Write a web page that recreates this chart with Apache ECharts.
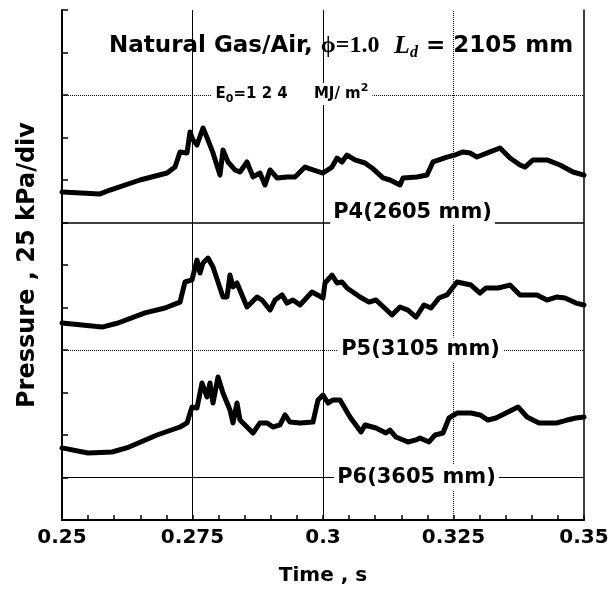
<!DOCTYPE html>
<html>
<head>
<meta charset="utf-8">
<script src="https://cdn.jsdelivr.net/npm/echarts@6/dist/echarts.min.js"></script>
<style>html,body{margin:0;padding:0;background:#fff;}#c{width:616px;height:599px;}</style>
</head>
<body>
<div id="c"></div>
<script>
// Time axis tick labels (s); data times below are in ms
var xTickLabels = ['0.25', '0.275', '0.3', '0.325', '0.35'];

// P4 (2605 mm) trace: time (ms) and pressure (kPa, offset trace)
var p4Time = [250, 257.28, 259.20, 264.94, 270.11, 271.65, 272.61, 273.95, 274.52, 275.10, 275.86, 277.01, 277.97, 278.93, 280.27, 280.84, 281.80, 283.14, 284.10, 285.44, 286.59, 287.93, 288.89, 289.85, 291.19, 293.10, 294.64, 296.55, 298.08, 300.00, 301.72, 302.68, 303.64, 304.60, 306.13, 308.05, 309.39, 311.49, 312.84, 314.75, 315.33, 318.01, 319.92, 321.07, 323.75, 325.29, 326.82, 328.16, 329.50, 330.46, 331.99, 333.91, 335.82, 337.74, 338.70, 340.23, 342.91, 345.40, 347.89, 350];
var p4Val = [192.9, 191.8, 194.1, 200.0, 204.1, 207.6, 216.5, 215.9, 228.2, 223.5, 220.6, 230.6, 223.5, 215.9, 202.9, 217.6, 210.6, 205.9, 204.7, 210.6, 201.8, 204.1, 197.1, 205.9, 201.2, 201.8, 201.8, 207.6, 205.9, 204.1, 207.6, 212.9, 210.6, 214.7, 211.8, 210.0, 207.1, 201.2, 200.0, 197.1, 201.2, 201.8, 202.9, 210.6, 213.5, 214.7, 216.5, 215.9, 213.5, 214.7, 216.5, 218.8, 212.9, 208.8, 207.6, 211.8, 211.8, 208.8, 204.7, 202.9];

// P5 (3105 mm)
var p5Time = [250, 257.66, 260.73, 265.90, 269.73, 272.61, 273.56, 274.90, 275.86, 276.44, 277.01, 277.97, 278.93, 280.84, 281.61, 282.18, 282.76, 283.52, 285.44, 287.36, 288.31, 289.85, 290.80, 292.15, 293.10, 294.25, 295.59, 297.89, 300.00, 300.38, 301.72, 302.68, 303.64, 304.60, 307.09, 308.81, 310.15, 313.22, 314.75, 316.28, 317.82, 319.35, 320.69, 322.22, 323.75, 325.67, 328.35, 330.08, 331.23, 333.52, 335.82, 337.74, 341.00, 342.91, 344.83, 346.36, 348.47, 350];
var p5Val = [115.9, 113.5, 115.9, 121.8, 124.7, 128.2, 140.0, 141.2, 152.9, 145.3, 151.2, 154.1, 148.8, 131.2, 131.2, 144.1, 137.1, 139.4, 125.3, 131.2, 129.4, 123.5, 129.4, 132.4, 127.6, 129.4, 126.5, 134.1, 130.6, 139.4, 144.1, 139.4, 140.0, 136.5, 131.2, 128.2, 129.4, 120.6, 125.3, 123.5, 119.4, 126.5, 124.7, 130.6, 132.4, 140.0, 138.2, 133.5, 136.5, 136.5, 138.2, 132.4, 132.4, 129.4, 131.2, 130.6, 127.6, 126.5];

// P6 (3605 mm)
var p6Time = [250, 254.98, 259.58, 262.84, 268.20, 272.61, 273.95, 274.90, 275.86, 276.82, 277.78, 278.35, 278.93, 279.89, 280.84, 282.18, 282.76, 283.52, 284.10, 285.44, 286.59, 287.93, 289.27, 290.42, 291.76, 292.72, 293.68, 295.59, 298.08, 299.04, 300.00, 300.96, 301.92, 303.26, 305.17, 307.28, 308.05, 310.15, 312.07, 312.84, 313.98, 316.28, 317.82, 318.58, 320.31, 321.46, 322.99, 324.14, 325.67, 328.35, 330.08, 331.61, 333.14, 335.06, 337.36, 339.08, 341.38, 344.83, 346.74, 348.47, 350];
var p6Val = [42.4, 39.4, 40.0, 42.9, 50.0, 54.7, 57.1, 66.5, 65.9, 80.6, 72.4, 80.6, 68.8, 84.1, 74.7, 64.7, 57.1, 68.8, 58.8, 54.7, 51.2, 57.1, 57.1, 54.7, 55.9, 61.8, 57.6, 57.1, 57.6, 70.6, 73.5, 68.8, 70.6, 70.6, 60.6, 51.8, 55.9, 54.1, 51.2, 52.9, 48.8, 45.9, 47.1, 48.2, 45.9, 50.0, 51.2, 60.0, 62.9, 62.9, 61.8, 58.8, 60.0, 62.9, 66.5, 60.6, 57.1, 57.1, 58.8, 60.0, 60.6];

// Trace baselines / annotation lines (kPa) and vertical guide times (ms)
var refLevels = [250, 175, 100, 25];
var gridTimes = [275, 300, 325];

// Annotation texts and their anchor times (ms)
var traceNames = ['P4(2605 mm)', 'P5(3105 mm)', 'P6(3605 mm)'];
var traceNameTimes = [317.15, 318.68, 317.91];
var energyTime = 294.06;

function zip(a, b) { return a.map(function (v, i) { return [v, b[i]]; }); }

var FONT = 'DejaVu Sans';
var chart = echarts.init(document.getElementById('c'), null, { renderer: 'canvas' });

var traceStyle = { color: '#000', width: 5, join: 'round', cap: 'round' };

var option = {
  animation: false,
  backgroundColor: '#fff',
  title: {
    left: 104, top: 26,
    text: '{a|Natural Gas/Air, }{phi|ϕ=1.0}{sp|   }{L|L}{d|d}{b| = 2105 mm}',
    textStyle: {
      rich: {
        a: { fontFamily: FONT, fontWeight: 'bold', fontSize: 23, color: '#000', lineHeight: 30 },
        phi: { fontFamily: 'Liberation Serif', fontSize: 24, color: '#000', lineHeight: 30 },
        sp: { fontFamily: FONT, fontSize: 14, lineHeight: 30 },
        L: { fontFamily: 'Liberation Serif', fontStyle: 'italic', fontWeight: 'bold', fontSize: 26, color: '#000', lineHeight: 30 },
        d: { fontFamily: 'Liberation Serif', fontStyle: 'italic', fontWeight: 'bold', fontSize: 16, color: '#000', lineHeight: 12, verticalAlign: 'bottom' },
        b: { fontFamily: FONT, fontWeight: 'bold', fontSize: 23, color: '#000', lineHeight: 30 }
      }
    }
  },
  grid: { left: 62, right: 32, top: 10, bottom: 79 },
  xAxis: [{
    type: 'value', min: 250, max: 350, interval: 25,
    name: 'Time , s', nameLocation: 'middle', nameGap: 46,
    nameTextStyle: { fontFamily: FONT, fontWeight: 'bold', fontSize: 20, color: '#000' },
    axisLine: { lineStyle: { color: '#000', width: 2 } },
    axisTick: { inside: true, length: 5, lineStyle: { color: '#000', width: 1.5 } },
    minorTick: { show: true, splitNumber: 5, length: 5, lineStyle: { color: '#000', width: 1.5 } },
    splitLine: { show: false },
    axisLabel: {
      margin: 8, fontFamily: FONT, fontWeight: 'bold', fontSize: 20, color: '#000',
      showMinLabel: true, showMaxLabel: true,
      formatter: function (v) { var i = Math.round((v - 250) / 25); return xTickLabels[i]; }
    }
  }, {
    type: 'value', min: 250, max: 350, position: 'top',
    axisLine: { show: true, lineStyle: { color: '#000', width: 1, type: 'dotted' } },
    axisTick: { show: false }, axisLabel: { show: false }, splitLine: { show: false }
  }],
  yAxis: [{
    type: 'value', min: 0, max: 300, interval: 25,
    name: 'Pressure , 25 kPa/div', nameLocation: 'middle', nameGap: 22,
    nameTextStyle: { fontFamily: FONT, fontWeight: 'bold', fontSize: 24, color: '#000' },
    axisLine: { show: true, lineStyle: { color: '#000', width: 2 } },
    axisTick: { inside: true, length: 6, lineStyle: { color: '#000', width: 1.5 } },
    axisLabel: { show: false },
    splitLine: { show: false }
  }, {
    type: 'value', min: 0, max: 300, position: 'right',
    axisLine: { show: true, lineStyle: { color: '#000', width: 1.5 } },
    axisTick: { show: false }, axisLabel: { show: false }, splitLine: { show: false }
  }],
  series: [
    {
      name: 'P4', type: 'line', data: zip(p4Time, p4Val), showSymbol: false, symbol: 'none',
      lineStyle: traceStyle, z: 5,
      markLine: {
        silent: true, symbol: 'none', label: { show: false }, animation: false,
        data: [
          { yAxis: refLevels[0], lineStyle: { color: '#000', width: 1, type: 'dotted' } },
          { yAxis: refLevels[1], lineStyle: { color: '#000', width: 1.5, type: 'solid' } },
          { yAxis: refLevels[2], lineStyle: { color: '#000', width: 1, type: 'dotted' } },
          { yAxis: refLevels[3], lineStyle: { color: '#000', width: 1, type: 'solid' } },
          { xAxis: gridTimes[0], lineStyle: { color: '#000', width: 1, type: 'solid' } },
          { xAxis: gridTimes[1], lineStyle: { color: '#000', width: 1, type: 'solid' } },
          { xAxis: gridTimes[2], lineStyle: { color: '#000', width: 1, type: 'dotted' } }
        ]
      }
    },
    { name: 'P5', type: 'line', data: zip(p5Time, p5Val), showSymbol: false, symbol: 'none', lineStyle: traceStyle, z: 5 },
    { name: 'P6', type: 'line', data: zip(p6Time, p6Val), showSymbol: false, symbol: 'none', lineStyle: traceStyle, z: 5 },
    {
      name: 'labels', type: 'scatter', symbolSize: 0, z: 6, silent: true,
      itemStyle: { opacity: 1, color: 'rgba(0,0,0,0)' },
      data: [
        { value: [traceNameTimes[0], refLevels[1]], name: traceNames[0], label: { offset: [0, -10] } },
        { value: [traceNameTimes[1], refLevels[2]], name: traceNames[1] },
        { value: [traceNameTimes[2], refLevels[3]], name: traceNames[2] }
      ],
      label: {
        show: true, position: 'inside', formatter: '{b}', opacity: 1,
        fontFamily: FONT, fontWeight: 'bold', fontSize: 21, color: '#000',
        backgroundColor: '#fff', padding: [2, 3]
      }
    },
    {
      name: 'energy', type: 'scatter', symbolSize: 0, z: 6, silent: true,
      itemStyle: { opacity: 1, color: 'rgba(0,0,0,0)' },
      data: [{ value: [energyTime, refLevels[0]] }],
      label: {
        show: true, position: 'inside', offset: [0, -1], opacity: 1,
        backgroundColor: '#fff', padding: [0, 4],
        formatter: '{e|E}{s|0}{e|=1 2 4     MJ/ m}{p|2}',
        rich: {
          e: { fontFamily: FONT, fontWeight: 'bold', fontSize: 15, color: '#000', lineHeight: 22 },
          s: { fontFamily: FONT, fontWeight: 'bold', fontSize: 11, color: '#000', lineHeight: 8, verticalAlign: 'bottom' },
          p: { fontFamily: FONT, fontWeight: 'bold', fontSize: 11, color: '#000', lineHeight: 8, verticalAlign: 'top' }
        }
      }
    }
  ]
};
chart.setOption(option);
</script>
</body>
</html>
